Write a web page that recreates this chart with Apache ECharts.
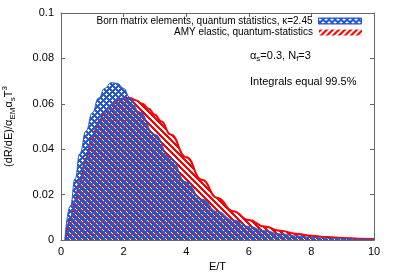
<!DOCTYPE html>
<html>
<head>
<meta charset="utf-8">
<script src="https://cdn.jsdelivr.net/npm/echarts@6/dist/echarts.min.js"></script>
<style>html,body{margin:0;padding:0;background:#fff}#c{width:395px;height:276px}</style>
</head>
<body>
<div id="c"></div>
<script>
// ---- data ----
const bornName = 'Born matrix elements, quantum statistics, κ=2.45';
const amyName = 'AMY elastic, quantum-statistics';
const bornE = [0.12, 0.3, 0.45, 0.6, 0.8, 1.0, 1.2, 1.4, 1.6, 1.8, 2.0, 2.2, 2.5, 3.0, 3.5, 4.0, 4.5, 5.0, 5.5, 6.0, 6.5, 7.0, 7.5, 8.0, 8.5, 9.0, 9.5, 10.0];
const bornV = [0.0, 0.015, 0.027, 0.038, 0.048, 0.056, 0.0625, 0.0668, 0.0693, 0.069, 0.0668, 0.0628, 0.0565, 0.0465, 0.036, 0.0255, 0.018, 0.0125, 0.0088, 0.006, 0.0041, 0.0027, 0.0018, 0.0012, 0.0008, 0.0005, 0.0003, 0.0002];
const amyE = [0.15, 0.3, 0.45, 0.6, 0.8, 1.0, 1.2, 1.4, 1.6, 1.8, 2.0, 2.2, 2.4, 2.6, 2.8, 3.0, 3.2, 3.5, 4.0, 4.5, 5.0, 5.5, 6.0, 6.5, 7.0, 7.5, 8.0, 8.5, 9.0, 9.5, 10.0];
const amyV = [0.0, 0.009, 0.0176, 0.026, 0.036, 0.0455, 0.052, 0.0565, 0.0595, 0.0615, 0.0625, 0.0626, 0.0615, 0.06, 0.0578, 0.0552, 0.0523, 0.0465, 0.0365, 0.0265, 0.0185, 0.0127, 0.0088, 0.006, 0.0041, 0.0028, 0.0019, 0.0013, 0.0009, 0.0006, 0.0004];
const xTicks = {min: 0, max: 10, interval: 2};
const yTicks = {min: 0, max: 0.1, interval: 0.02};

// ---- styles ----
const FONT = 'Liberation Sans';
const BLUE = [38, 88, 208];
const RED = [255, 0, 0];

function bluePattern(holeAlpha) {
  const n = 6, c = document.createElement('canvas');
  c.width = n; c.height = n;
  const ctx = c.getContext('2d');
  const img = ctx.createImageData(n, n);
  const hs = new Set();
  [[1, 1], [4, 4]].forEach(([cx, cy]) => {
    [[0,0],[1,0],[-1,0],[0,1],[0,-1]].forEach(([dx, dy]) => {
      hs.add(((cx + dx + n) % n) + ',' + ((cy + dy + n) % n));
    });
  });
  for (let y = 0; y < n; y++) for (let x = 0; x < n; x++) {
    const i = (y * n + x) * 4;
    if (hs.has(x + ',' + y)) {
      img.data[i] = 255; img.data[i+1] = 255; img.data[i+2] = 255; img.data[i+3] = holeAlpha;
    } else {
      img.data[i] = BLUE[0]; img.data[i+1] = BLUE[1]; img.data[i+2] = BLUE[2]; img.data[i+3] = 255;
    }
  }
  ctx.putImageData(img, 0, 0);
  return c;
}
function redPattern(forward) {
  const n = 6, c = document.createElement('canvas');
  c.width = n; c.height = n;
  const ctx = c.getContext('2d');
  const img = ctx.createImageData(n, n);
  for (let y = 0; y < n; y++) for (let x = 0; x < n; x++) {
    const i = (y * n + x) * 4;
    const d = forward ? ((x + y) % n) : ((x - y + n) % n);
    const white = d >= 3;
    img.data[i] = white ? 255 : RED[0];
    img.data[i+1] = white ? 255 : RED[1];
    img.data[i+2] = white ? 255 : RED[2];
    img.data[i+3] = 255;
  }
  ctx.putImageData(img, 0, 0);
  return c;
}

const bluePat = {image: bluePattern(0), repeat: 'repeat'};
const blueLegendPat = {image: bluePattern(255), repeat: 'repeat'};
const redPat = {image: redPattern(false), repeat: 'repeat'};
const redLegendPat = {image: redPattern(true), repeat: 'repeat'};

const frame = '#666';
const chart = echarts.init(document.getElementById('c'), null, {renderer: 'canvas'});

const axisCommon = {
  axisLine: {show: true, onZero: false, lineStyle: {color: frame, width: 1}},
  axisTick: {show: true, inside: true, length: 4, lineStyle: {color: frame}},
  splitLine: {show: false}
};

const txt = {fontFamily: FONT, color: '#000', fontSize: 11};

chart.setOption({
  animation: false,
  backgroundColor: '#fff',
  grid: {left: 61, right: 21, top: 13, bottom: 36, containLabel: false, outerBoundsMode: 'none'},
  legend: [
    {
      data: [{name: bornName, itemStyle: {color: blueLegendPat, borderColor: 'rgb(38,88,208)', borderWidth: 1}}],
      right: 33, top: 16, orient: 'vertical', align: 'right', padding: 0,
      icon: 'rect', itemWidth: 43, itemHeight: 6, selectedMode: false,
      textStyle: {fontFamily: FONT, fontSize: 10, color: '#000', padding: [0, 1, 0, 0]}
    },
    {
      data: [{name: amyName, itemStyle: {color: redLegendPat, borderColor: 'red', borderWidth: 0}}],
      right: 33, top: 27.5, orient: 'vertical', align: 'right', padding: 0,
      icon: 'rect', itemWidth: 43, itemHeight: 6, selectedMode: false,
      textStyle: {fontFamily: FONT, fontSize: 10, color: '#000', padding: [0, 1, 0, 0]}
    }
  ],
  xAxis: [
    Object.assign({
      type: 'value', position: 'bottom', min: xTicks.min, max: xTicks.max, interval: xTicks.interval,
      name: 'E/T', nameLocation: 'middle', nameGap: 21,
      nameTextStyle: txt,
      axisLabel: Object.assign({margin: 6}, txt)
    }, axisCommon),
    Object.assign({
      type: 'value', position: 'top', min: xTicks.min, max: xTicks.max, interval: xTicks.interval,
      axisLabel: {show: false}
    }, axisCommon)
  ],
  yAxis: [
    Object.assign({
      type: 'value', position: 'left', min: yTicks.min, max: yTicks.max, interval: yTicks.interval,
      name: '{a|(dR/dE)/α}{s|EM}{a|α}{s|s}{a|T}{p|3}',
      nameLocation: 'middle', nameGap: 44, nameRotate: 90,
      nameTextStyle: {
        fontFamily: FONT, color: '#000', fontSize: 11,
        rich: {
          a: {fontFamily: FONT, fontSize: 11, color: '#000', lineHeight: 16},
          s: {fontFamily: FONT, fontSize: 8, color: '#000', lineHeight: 10, verticalAlign: 'bottom'},
          p: {fontFamily: FONT, fontSize: 8, color: '#000', lineHeight: 10, verticalAlign: 'top'}
        }
      },
      axisLabel: Object.assign({margin: 7}, txt)
    }, axisCommon),
    Object.assign({
      type: 'value', position: 'right', min: yTicks.min, max: yTicks.max, interval: yTicks.interval,
      axisLabel: {show: false}
    }, axisCommon)
  ],
  graphic: [
    {
      type: 'text', left: 250, top: 50, z: 100,
      style: {
        text: '{a|α}{s|s}{a|=0.3, N}{s|f}{a|=3}',
        rich: {
          a: {fontFamily: FONT, fontSize: 11, fill: '#000', lineHeight: 15},
          s: {fontFamily: FONT, fontSize: 8, fill: '#000', lineHeight: 9, verticalAlign: 'bottom'}
        }
      }
    },
    {
      type: 'text', left: 250, top: 76, z: 100,
      style: {text: 'Integrals equal 99.5%', fontFamily: FONT, fontSize: 11, fill: '#000'}
    }
  ],
  series: [
    {
      name: amyName, type: 'line', xAxisIndex: 0, yAxisIndex: 0,
      data: amyE.map((e, i) => [e, amyV[i]]),
      smooth: 0.5, smoothMonotone: 'x', symbol: 'none', z: 2,
      lineStyle: {color: '#ff0000', width: 2},
      itemStyle: {color: '#ff0000'},
      areaStyle: {color: redPat, opacity: 1}
    },
    {
      name: bornName, type: 'line', xAxisIndex: 0, yAxisIndex: 0,
      data: bornE.map((e, i) => [e, bornV[i]]),
      smooth: 0.5, smoothMonotone: 'x', symbol: 'none', z: 3,
      lineStyle: {color: 'rgb(38,88,208)', width: 1},
      itemStyle: {color: 'rgb(38,88,208)'},
      areaStyle: {color: bluePat, opacity: 1}
    }
  ]
});
</script>
</body>
</html>
